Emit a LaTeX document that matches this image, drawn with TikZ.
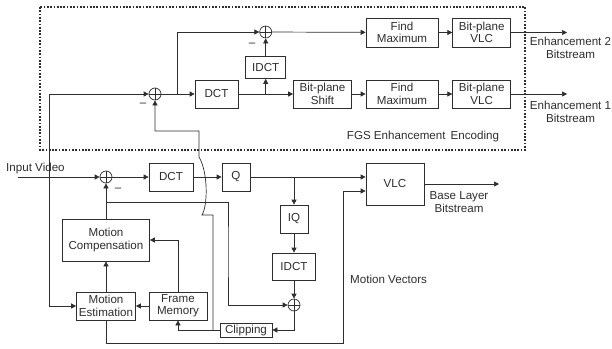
\documentclass[tikz,border=0pt]{standalone}
\usepackage{fontspec}
\setmainfont{Liberation Sans}
\usepackage{xcolor}
\usepackage{tikz}
\usetikzlibrary{arrows.meta,positioning}
\definecolor{ink}{HTML}{2E2E2E}

\begin{document}
\begin{tikzpicture}[
  x=1pt,y=-1pt,
  font=\fontsize{11.6}{12.4}\selectfont,text=ink,
  box/.style={draw=ink,line width=0.7pt,fill=white,inner sep=1pt,align=center},
  sum/.style={circle,draw=ink,line width=0.7pt,minimum size=12pt,inner sep=0pt,
    path picture={\draw[ink,line width=0.7pt] (path picture bounding box.north) -- (path picture bounding box.south)
      (path picture bounding box.west) -- (path picture bounding box.east);}},
  arrow/.style={-{Triangle[length=5pt,width=5pt]},line width=0.7pt,draw=ink},
  lbl/.style={align=center,inner sep=0pt}
]
\useasboundingbox (0,0) rectangle (612,348);
\draw[ink,line width=1.7pt,dash pattern=on 1.7pt off 1.6pt] (40,7) rectangle (525,150);

% enhancement layer
\node[sum] (esum) at (155,94) {};
\node[box,minimum width=43pt,minimum height=28pt] (edct) at (216.5,94) {DCT};
\node[box,minimum width=40pt,minimum height=22pt] (eidct) at (265.7,67.5) {IDCT};
\node[sum] (usum) at (265.7,32) {};
\node[box,minimum width=58pt,minimum height=28pt] (shift) at (322.5,94) {Bit-plane\\Shift};
\node[box,minimum width=72pt,minimum height=29pt] (fmaxb) at (402,32.5) {Find\\Maximum};
\node[box,minimum width=58pt,minimum height=29pt] (vlcb) at (481.7,32.5) {Bit-plane\\VLC};
\node[box,minimum width=72pt,minimum height=28pt] (fmaxa) at (402,94) {Find\\Maximum};
\node[box,minimum width=58pt,minimum height=28pt] (vlca) at (481.7,94) {Bit-plane\\VLC};
\coordinate (outb) at (567,32.5);
\coordinate (outa) at (567,94);
\node[lbl] (enhb) at (570.5,48) {Enhancement 2\\Bitstream};
\node[lbl] (enha) at (570.5,112) {Enhancement 1\\Bitstream};
\node[lbl] (fgs) at (423,136) {FGS Enhancement\, Encoding};
\node (minusa) at (143,105) {--};
\node (minusb) at (252,45) {--};

% base layer
\coordinate (input) at (18,177);
\node[lbl,anchor=west] (inlbl) at (6,168) {Input Video};
\coordinate (jin) at (49,177);
\node[sum] (bsum) at (106,177) {};
\node (minusc) at (118,190) {--};
\node[box,minimum width=44pt,minimum height=28pt] (bdct) at (171,177) {DCT};
\node[box,minimum width=28pt,minimum height=28pt] (q) at (236,177) {Q};
\node[box,minimum width=58pt,minimum height=42pt] (vlc) at (395,184) {VLC};
\coordinate (jq) at (294,177);
\node[box,minimum width=28pt,minimum height=28pt] (iq) at (294,219) {IQ};
\node[box,minimum width=43pt,minimum height=27pt] (bidct) at (294,266.5) {IDCT};
\node[sum] (rsum) at (294,305) {};
\node[box,minimum width=52pt,minimum height=14pt] (clip) at (246,330) {Clipping};
\node[box,minimum width=58pt,minimum height=28pt] (fm) at (178,306) {Frame\\Memory};
\node[box,minimum width=59pt,minimum height=28pt] (me) at (106,306) {Motion\\Estimation};
\node[box,minimum width=87pt,minimum height=42pt] (mc) at (106,240) {Motion\\Compensation};
\node[lbl] (base) at (459,202) {Base Layer\\Bitstream};
\node[lbl,anchor=west] (mvlbl) at (350,279) {Motion Vectors};
\coordinate (out) at (499,184);
\coordinate (jmc) at (106,202);
\coordinate (jclip) at (213,330);

\draw[arrow] (input) -- (bsum);
\draw[arrow] (jin) |- (esum);
\draw[arrow] (jin) |- (me);
\draw[arrow] (esum) -- (edct);
\draw[arrow] (177,94) |- (usum);
\draw[arrow] (edct) -- (shift);
\draw[arrow] (eidct.south |- edct) -- (eidct);
\draw[arrow] (eidct) -- (usum);
\draw[arrow] (usum) -- (fmaxb);
\draw[arrow] (fmaxb) -- (vlcb);
\draw[arrow] (vlcb) -- (outb);
\draw[arrow] (shift) -- (fmaxa);
\draw[arrow] (fmaxa) -- (vlca);
\draw[arrow] (vlca) -- (outa);

\draw[arrow] (bsum) -- (bdct);
\draw[arrow] (bdct) -- (q);
\draw[arrow] (q) -- (q.east -| vlc.west);
\draw[arrow] (jq) -- (iq);
\draw[arrow] (iq) -- (bidct);
\draw[arrow] (bidct) -- (rsum);
\draw[arrow] (rsum) |- (clip);
\draw[arrow] (clip) -| (fm);
\draw[arrow] (fm) -- (me);
\draw[arrow] (fm) |- (mc);
\draw[arrow] (me) -- (mc);
\draw[arrow] (mc) -- (bsum);
\draw[arrow] (jmc) -| (228,250) |- (rsum);
\draw[arrow] (vlc) -- (out);
\draw[arrow] (me) |- (343,343) |- (vlc.west |- 0,191);
\draw[arrow] (jclip) -- (213,215) -- (202,215) .. controls (208,205) and (208,172) .. (199,157) |- (155,131) -- (esum);
\end{tikzpicture}
\end{document}
